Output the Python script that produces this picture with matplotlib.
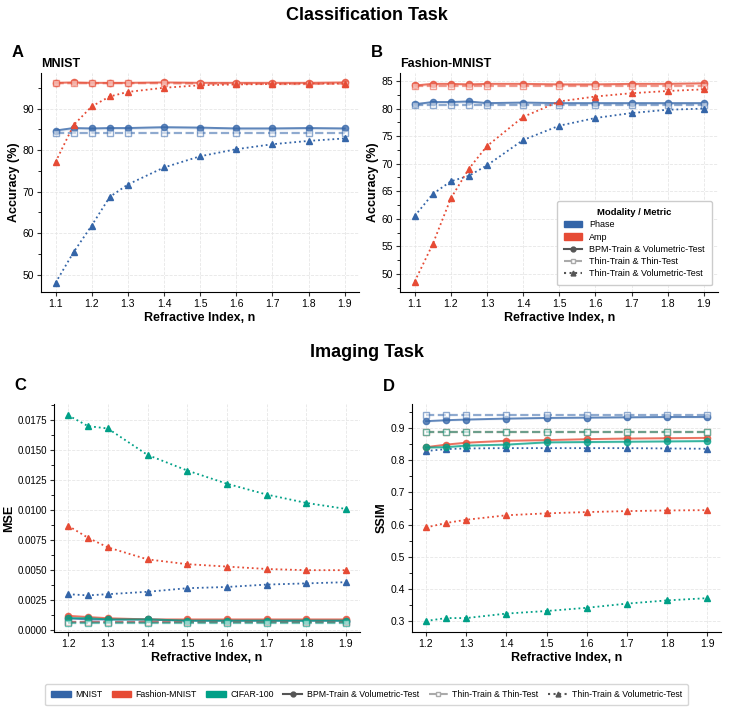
import matplotlib
matplotlib.use("Agg")
import matplotlib.pyplot as plt
from matplotlib.lines import Line2D
from matplotlib.patches import Patch
from matplotlib.ticker import AutoMinorLocator
import numpy as np

plt.rcParams['font.family'] = ['Liberation Sans', 'DejaVu Sans']

# classification data
n_cls = [1.1, 1.15, 1.2, 1.25, 1.3, 1.4, 1.5, 1.6, 1.7, 1.8, 1.9]
cls_ticks = [1.1, 1.2, 1.3, 1.4, 1.5, 1.6, 1.7, 1.8, 1.9]

mnist_phase_bpm = [84.7, 85.3, 85.2, 85.3, 85.3, 85.5, 85.4, 85.2, 85.2, 85.3, 85.2]
mnist_phase_thin = [84.1, 84.1, 84.1, 84.1, 84.1, 84.1, 84.1, 84.1, 84.1, 84.1, 84.1]
mnist_phase_vol = [48.0, 55.4, 61.8, 68.7, 71.7, 75.8, 78.5, 80.2, 81.4, 82.2, 82.8]
mnist_amp_bpm = [96.2, 96.3, 96.2, 96.2, 96.2, 96.3, 96.2, 96.2, 96.2, 96.2, 96.3]
mnist_amp_thin = [96.1, 96.1, 96.1, 96.1, 96.1, 96.1, 96.0, 96.0, 95.9, 95.9, 96.0]
mnist_amp_vol = [77.1, 86.0, 90.5, 92.9, 94.0, 95.0, 95.6, 95.8, 95.9, 96.0, 96.0]

fmnist_phase_bpm = [80.8, 81.2, 81.2, 81.3, 81.0, 81.1, 81.0, 81.0, 81.0, 81.0, 81.0]
fmnist_phase_thin = [80.7, 80.7, 80.7, 80.7, 80.7, 80.7, 80.7, 80.7, 80.7, 80.7, 80.7]
fmnist_phase_vol = [60.5, 64.5, 66.8, 67.8, 69.7, 74.3, 76.9, 78.3, 79.2, 79.8, 80.0]
fmnist_amp_bpm = [84.2, 84.5, 84.5, 84.4, 84.5, 84.5, 84.4, 84.4, 84.5, 84.5, 84.6]
fmnist_amp_thin = [84.1, 84.1, 84.1, 84.1, 84.1, 84.1, 84.1, 84.1, 84.1, 84.1, 84.1]
fmnist_amp_vol = [48.6, 55.4, 63.7, 69.1, 73.2, 78.5, 81.3, 82.2, 82.8, 83.2, 83.5]

# imaging data
n_img = [1.2, 1.25, 1.3, 1.4, 1.5, 1.6, 1.7, 1.8, 1.9]
img_ticks = [1.2, 1.3, 1.4, 1.5, 1.6, 1.7, 1.8, 1.9]

mse_mnist_bpm = [0.0010, 0.0009, 0.0009, 0.0009, 0.0008, 0.0008, 0.0008, 0.0008, 0.0008]
mse_mnist_thin = [0.0007] * 9
mse_mnist_vol = [0.0030, 0.0029, 0.0030, 0.0032, 0.0035, 0.0036, 0.0038, 0.0039, 0.0040]
mse_fmnist_bpm = [0.0012, 0.0011, 0.0010, 0.0009, 0.0009, 0.0009, 0.0009, 0.0009, 0.0009]
mse_fmnist_thin = [0.0007] * 9
mse_fmnist_vol = [0.0087, 0.0077, 0.0069, 0.0059, 0.0055, 0.0053, 0.0051, 0.0050, 0.0050]
mse_cifar_bpm = [0.0010, 0.0010, 0.0009, 0.0009, 0.0008, 0.0008, 0.0008, 0.0008, 0.0008]
mse_cifar_thin = [0.0006] * 9
mse_cifar_vol = [0.0179, 0.0170, 0.0168, 0.0146, 0.0133, 0.0122, 0.0113, 0.0106, 0.0101]
mse_ticks = [0.0, 0.0025, 0.0050, 0.0075, 0.0100, 0.0125, 0.0150, 0.0175]

ssim_mnist_bpm = [0.922, 0.925, 0.927, 0.930, 0.932, 0.933, 0.934, 0.935, 0.935]
ssim_mnist_thin = [0.942] * 9
ssim_mnist_vol = [0.829, 0.835, 0.837, 0.838, 0.838, 0.838, 0.838, 0.837, 0.836]
ssim_fmnist_bpm = [0.841, 0.849, 0.855, 0.861, 0.863, 0.866, 0.868, 0.869, 0.870]
ssim_fmnist_thin = [0.888] * 9
ssim_fmnist_vol = [0.591, 0.605, 0.615, 0.629, 0.635, 0.639, 0.642, 0.644, 0.645]
ssim_cifar_bpm = [0.840, 0.841, 0.846, 0.849, 0.856, 0.857, 0.858, 0.859, 0.860]
ssim_cifar_thin = [0.889] * 9
ssim_cifar_vol = [0.300, 0.309, 0.309, 0.323, 0.331, 0.341, 0.354, 0.364, 0.371]

BLUE = "#3465A8"
RED = "#E64B35"
GREEN = "#00A087"


def draw(ax, x, bpm, thin, vol, color, band):
    x = np.array(x)
    bpm = np.array(bpm)
    ax.fill_between(x, bpm - band, bpm + band, color=color, alpha=0.15, lw=0)
    ax.plot(x, bpm, '-', color=color, marker='o', ms=4.5, lw=1.4, alpha=0.75)
    ax.plot(x, thin, '--', color=color, marker='s', ms=4.5, lw=1.6, alpha=0.55,
            mfc='white', mec=color, mew=1.0)
    ax.plot(x, vol, ':', color=color, marker='^', ms=4.5, lw=1.3)


def style(ax, ylabel, tsize=7.5):
    ax.spines['top'].set_visible(False)
    ax.spines['right'].set_visible(False)
    ax.grid(True, color='#e6e6e6', lw=0.6, ls='--')
    ax.set_axisbelow(True)
    ax.yaxis.set_minor_locator(AutoMinorLocator(2))
    ax.tick_params(labelsize=tsize, length=3, color='#333333', pad=2)
    ax.tick_params(which='minor', length=2)
    ax.set_xlabel("Refractive Index, n", fontsize=9, fontweight='bold', labelpad=2)
    ax.set_ylabel(ylabel, fontsize=9, fontweight='bold', labelpad=2)


fig = plt.figure(figsize=(7.33, 7.14), dpi=100)

axA = fig.add_axes([0.056, 0.591, 0.434, 0.307])
axB = fig.add_axes([0.546, 0.591, 0.434, 0.307])
axC = fig.add_axes([0.074, 0.115, 0.417, 0.319])
axD = fig.add_axes([0.562, 0.115, 0.422, 0.319])

draw(axA, n_cls, mnist_phase_bpm, mnist_phase_thin, mnist_phase_vol, BLUE, 0.35)
draw(axA, n_cls, mnist_amp_bpm, mnist_amp_thin, mnist_amp_vol, RED, 0.2)
axA.set_ylim(45.8, 98.6)
axA.set_xticks(cls_ticks)
style(axA, "Accuracy (%)")
axA.set_title("MNIST", loc='left', fontsize=9, fontweight='bold', pad=4)

draw(axB, n_cls, fmnist_phase_bpm, fmnist_phase_thin, fmnist_phase_vol, BLUE, 0.25)
draw(axB, n_cls, fmnist_amp_bpm, fmnist_amp_thin, fmnist_amp_vol, RED, 0.25)
axB.set_ylim(46.7, 86.5)
axB.set_xticks(cls_ticks)
style(axB, "Accuracy (%)")
axB.set_title("Fashion-MNIST", loc='left', fontsize=9, fontweight='bold', pad=4)

handlesB = [
    Patch(color=BLUE, label="Phase"),
    Patch(color=RED, label="Amp"),
    Line2D([], [], color='#555555', ls='-', marker='o', ms=3.5, label="BPM-Train & Volumetric-Test"),
    Line2D([], [], color='#aaaaaa', ls='--', marker='s', ms=3.5, mfc='white', label="Thin-Train & Thin-Test"),
    Line2D([], [], color='#555555', ls=':', marker='^', ms=3.5, label="Thin-Train & Volumetric-Test"),
]
axB.legend(handles=handlesB, title="Modality / Metric", loc='lower right',
           bbox_to_anchor=(0.995, 0.01),
           fontsize=6.5, title_fontproperties={'weight': 'bold', 'size': 6.8},
           handlelength=2.0, frameon=True, framealpha=1, edgecolor='#cccccc',
           borderpad=0.8, labelspacing=0.35)

draw(axC, n_img, mse_mnist_bpm, mse_mnist_thin, mse_mnist_vol, BLUE, 0.00005)
draw(axC, n_img, mse_fmnist_bpm, mse_fmnist_thin, mse_fmnist_vol, RED, 0.00005)
draw(axC, n_img, mse_cifar_bpm, mse_cifar_thin, mse_cifar_vol, GREEN, 0.00005)
axC.set_ylim(-0.00014, 0.01883)
axC.set_yticks(mse_ticks)
axC.set_yticklabels([f"{v:.4f}" for v in mse_ticks])
axC.set_xticks(img_ticks)
style(axC, "MSE", tsize=7)
axC.tick_params(axis='x', labelsize=7.5)

draw(axD, n_img, ssim_mnist_bpm, ssim_mnist_thin, ssim_mnist_vol, BLUE, 0.003)
draw(axD, n_img, ssim_fmnist_bpm, ssim_fmnist_thin, ssim_fmnist_vol, RED, 0.003)
draw(axD, n_img, ssim_cifar_bpm, ssim_cifar_thin, ssim_cifar_vol, GREEN, 0.003)
axD.set_ylim(0.266, 0.975)
axD.set_xticks(img_ticks)
style(axD, "SSIM")

fig.text(0.5, 0.978, "Classification Task", ha='center', va='center', fontsize=13, fontweight='bold')
fig.text(0.5, 0.507, "Imaging Task", ha='center', va='center', fontsize=13, fontweight='bold')
fig.text(0.016, 0.927, "A", ha='left', va='center', fontsize=12, fontweight='bold')
fig.text(0.506, 0.927, "B", ha='left', va='center', fontsize=12, fontweight='bold')
fig.text(0.020, 0.460, "C", ha='left', va='center', fontsize=12, fontweight='bold')
fig.text(0.523, 0.458, "D", ha='left', va='center', fontsize=12, fontweight='bold')

handles_bottom = [
    Patch(color=BLUE, label="MNIST"),
    Patch(color=RED, label="Fashion-MNIST"),
    Patch(color=GREEN, label="CIFAR-100"),
    Line2D([], [], color='#555555', ls='-', marker='o', ms=3.5, label="BPM-Train & Volumetric-Test"),
    Line2D([], [], color='#aaaaaa', ls='--', marker='s', ms=3.5, mfc='white', label="Thin-Train & Thin-Test"),
    Line2D([], [], color='#555555', ls=':', marker='^', ms=3.5, label="Thin-Train & Volumetric-Test"),
]
fig.legend(handles=handles_bottom, loc='center', bbox_to_anchor=(0.5, 0.027), ncol=6,
           fontsize=6.3, frameon=True, edgecolor='#cccccc', handlelength=2.2,
           columnspacing=1.1, handletextpad=0.5, borderpad=0.7)

fig.savefig("out.png", dpi=100)
